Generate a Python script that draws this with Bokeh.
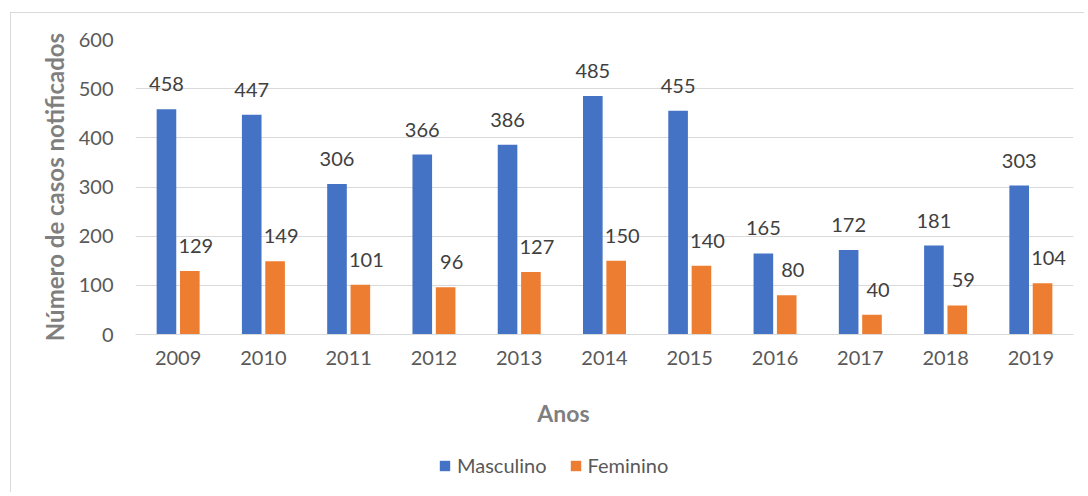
from bokeh.plotting import figure
from bokeh.layouts import column
from bokeh.models import ColumnDataSource, FactorRange, LabelSet, Label, Legend, LegendItem, Range1d
from bokeh.transform import dodge
from bokeh.core.properties import value
from bokeh.embed import file_html
from bokeh.resources import INLINE

years = ["2009", "2010", "2011", "2012", "2013", "2014", "2015", "2016", "2017", "2018", "2019"]
masculino = [458, 447, 306, 366, 386, 485, 455, 165, 172, 181, 303]
feminino = [129, 149, 101, 96, 127, 150, 140, 80, 40, 59, 104]
y_ticks = [0, 100, 200, 300, 400, 500, 600]
series_names = ["Masculino", "Feminino"]

FONT = "Lato"
BLUE = "#4472C4"
ORANGE = "#ED7D31"
BORDER = "1px solid #d9d9d9"
W = 1074

src = ColumnDataSource(dict(
    year=years, m=masculino, f=feminino,
    m_txt=[str(v) for v in masculino], f_txt=[str(v) for v in feminino],
))

p = figure(x_range=FactorRange(*years, range_padding=0), y_range=Range1d(0, 600),
           width=W, height=367, output_backend="svg", toolbar_location=None,
           min_border_left=124, min_border_top=26, min_border_right=12, min_border_bottom=46)
p.margin = (12, 0, 0, 10)
p.styles = {"border-left": BORDER, "border-top": BORDER}
p.outline_line_color = None
p.background_fill_color = "white"
p.border_fill_color = "white"

bw = 0.23
off = 0.137
rm = p.vbar(x=dodge("year", -off, range=p.x_range), top="m", width=bw, source=src,
            fill_color=BLUE, line_color=None)
rf = p.vbar(x=dodge("year", off, range=p.x_range), top="f", width=bw, source=src,
            fill_color=ORANGE, line_color=None)

for col, txt, dx, o in (("m", "m_txt", 0, -off), ("f", "f_txt", 6, off)):
    ls = LabelSet(x=dodge("year", o, range=p.x_range), y=col, text=txt,
                  source=src, x_offset=dx, y_offset=25, text_align="center", text_baseline="middle",
                  text_font=value(FONT), text_font_size=value("20px"), text_color=value("#404040"))
    p.add_layout(ls)

# axes
p.yaxis.ticker = y_ticks
p.yaxis.axis_line_color = None
p.yaxis.major_tick_line_color = None
p.yaxis.minor_tick_line_color = None
p.yaxis.major_label_standoff = 16
p.yaxis.major_label_text_font = FONT
p.yaxis.major_label_text_font_size = "20px"
p.yaxis.major_label_text_color = "#595959"
p.yaxis.axis_label = "Número de casos notificados"
p.yaxis.axis_label_text_font = FONT
p.yaxis.axis_label_text_font_style = "bold"
p.yaxis.axis_label_text_font_size = "24px"
p.yaxis.axis_label_text_color = "#7f7f7f"
p.yaxis.axis_label_standoff = 7

p.xaxis.axis_line_color = "#d9d9d9"
p.xaxis.axis_line_width = 1
p.xaxis.major_tick_line_color = None
p.xaxis.minor_tick_line_color = None
p.xaxis.major_label_standoff = 10
p.xaxis.major_label_text_font = FONT
p.xaxis.major_label_text_font_size = "20px"
p.xaxis.major_label_text_color = "#595959"

p.xgrid.grid_line_color = None
p.ygrid.grid_line_color = "#d9d9d9"
p.ygrid.grid_line_width = 1

# lower strip: x-axis title and legend
H2 = 113
p2 = figure(width=W, height=H2, output_backend="svg", toolbar_location=None,
            x_range=Range1d(0, W), y_range=Range1d(0, H2),
            x_axis_location=None, y_axis_location=None,
            min_border_left=0, min_border_right=0, min_border_top=0, min_border_bottom=0)
p2.margin = (0, 0, 0, 10)
p2.styles = {"border-left": BORDER}
p2.outline_line_color = None
p2.background_fill_color = "white"
p2.border_fill_color = "white"
p2.xgrid.grid_line_color = None
p2.ygrid.grid_line_color = None

p2.add_layout(Label(x=490, y=80, text="Anos", text_align="center", text_baseline="middle",
                    text_font=FONT, text_font_style="bold", text_font_size="23px",
                    text_color="#7f7f7f"))

# off-screen key glyphs, only used to draw the legend swatches
km = p2.vbar(x=[-50], top=[0], width=1, fill_color=BLUE, line_color=None)
kf = p2.vbar(x=[-50], top=[0], width=1, fill_color=ORANGE, line_color=None)

legend = Legend(items=[LegendItem(label=series_names[0], renderers=[km]),
                       LegendItem(label=series_names[1], renderers=[kf])],
                orientation="horizontal", location=(303, 15),
                label_text_font=FONT, label_text_font_size="20px", label_text_color="#595959",
                glyph_width=13, glyph_height=13, label_standoff=6, spacing=22,
                padding=0, margin=0, border_line_color=None, background_fill_alpha=0)
p2.add_layout(legend, "center")

layout = column(p, p2, spacing=0)
open("out.html", "w").write(file_html(layout, INLINE))
